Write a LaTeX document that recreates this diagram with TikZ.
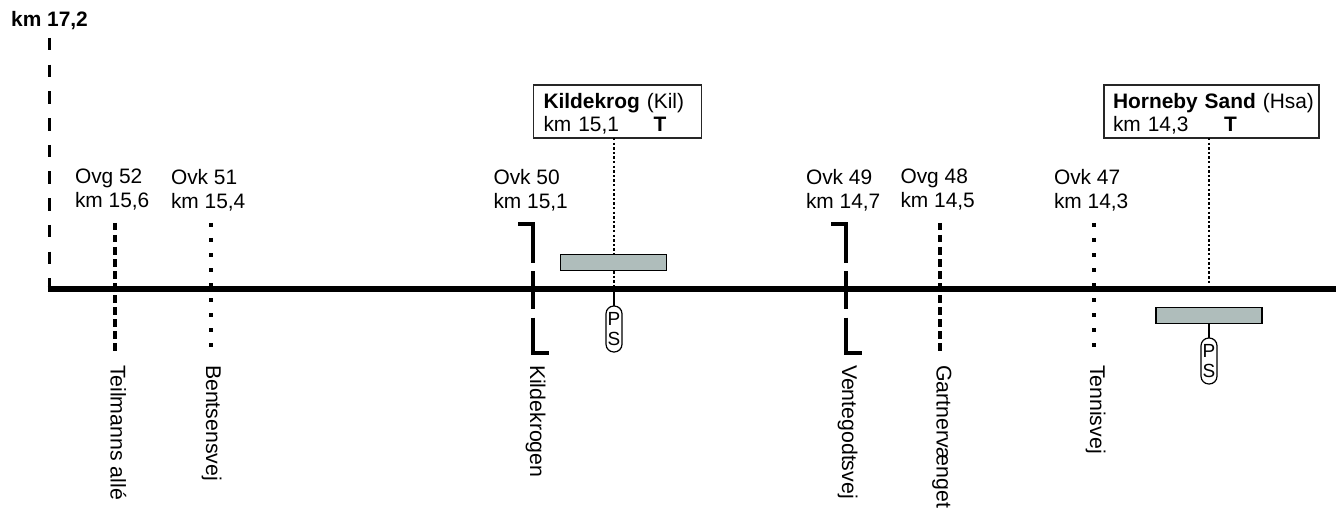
\documentclass[tikz,border=0pt]{standalone}
\usepackage{fontspec}
\setmainfont{Liberation Sans}
\definecolor{plat}{HTML}{AFBDBB}
\tikzset{
  lbl/.style={inner sep=0pt,outer sep=0pt,anchor=north west,align=left,font=\fontsize{20.9}{24.3}\selectfont},
  road/.style={inner sep=0pt,outer sep=0pt,anchor=base west,rotate=-90,font=\fontsize{21.3}{24}\selectfont},
  stationbox/.style={draw=black!85,line width=1.1pt,fill=white,inner sep=0pt,outer sep=0pt,minimum height=53pt,align=left,font=\fontsize{20.9}{23}\selectfont},
  platform/.style={draw=black,line width=1.1pt,fill=plat,inner sep=0pt,outer sep=0pt,minimum width=106pt},
  capsule/.style={draw=black,line width=1.2pt,fill=white,rounded corners=7.8pt,inner sep=0pt,outer sep=0pt,minimum width=16pt,minimum height=46pt,align=center,font=\fontsize{19}{20}\selectfont},
  mainline/.style={line width=5.6pt},
  kmline/.style={line width=3pt,dash pattern=on 12.5pt off 14.2pt},
  gate/.style={line width=4pt,dash pattern=on 7.5pt off 4.5pt},
  cross/.style={line width=4pt,dash pattern=on 4pt off 11pt},
  barrier/.style={line width=4pt,dash pattern=on 38pt off 8.5pt},
  tick/.style={line width=4pt},
  fine/.style={line width=2.6pt,dash pattern=on 2.5pt off 2.1pt},
  stem/.style={line width=1.4pt}
}
\begin{document}
\begin{tikzpicture}[x=1pt,y=-1pt]
\useasboundingbox (0,0) rectangle (1336,513);
% main line
\coordinate (mL) at (47.5,289);
\coordinate (mR) at (1340,289);
\coordinate (kmtop) at (49,38);
\draw[kmline] (kmtop) -- (kmtop |- mL);
\draw[mainline] (mL) -- (mR);
\node[anchor=base west,inner sep=0pt,font=\fontsize{20.9}{24}\selectfont\bfseries] (km) at (11,27) {km 17,2};
% crossings
\coordinate (a1) at (114.5,223); \coordinate (a2) at (114.5,355);
\draw[gate] (a1) -- (a2);
\coordinate (b1) at (210.5,223); \coordinate (b2) at (210.5,348);
\draw[cross] (b1) -- (b2);
\coordinate (c1) at (533,224.5); \coordinate (c2) at (533,353);
\coordinate (c3) at (518,224.5); \coordinate (c4) at (549,353);
\draw[barrier] (c1) -- (c2);
\draw[tick] (c3) -- (535,224.5) (531,353) -- (c4);
\coordinate (d1) at (846,224.5); \coordinate (d2) at (846,353);
\coordinate (d3) at (831,224.5); \coordinate (d4) at (862,353);
\draw[barrier] (d1) -- (d2);
\draw[tick] (d3) -- (848,224.5) (844,353) -- (d4);
\coordinate (e1) at (940,223); \coordinate (e2) at (940,355);
\draw[gate] (e1) -- (e2);
\coordinate (f1) at (1093.5,223); \coordinate (f2) at (1093.5,348);
\draw[cross] (f1) -- (f2);
% crossing labels
\node[lbl] (la) at (75,169) {Ovg 52\\km 15,6};
\node[lbl] (lb) at (171,169) {Ovk 51\\km 15,4};
\node[lbl] (lc) at (493.5,169) {Ovk 50\\km 15,1};
\node[lbl] (ld) at (806,169) {Ovk 49\\km 14,7};
\node[lbl] (le) at (900.5,169) {Ovg 48\\km 14,5};
\node[lbl] (lf) at (1054,169) {Ovk 47\\km 14,3};
% road names
\node[road] (ra) at (110.5,365) {Teilmanns allé};
\node[road] (rb) at (206,365) {Bentsensvej};
\node[road] (rc) at (530,365) {Kildekrogen};
\node[road] (rd) at (842,365) {Ventegodtsvej};
\node[road] (re) at (936.5,365) {Gartnervænget};
\node[road] (rf) at (1090,365) {Tennisvej};
% Kildekrog
\node[stationbox,minimum width=168pt,text width=158pt] (s1) at (617.5,111.5) {\rule{0pt}{19pt}\hspace*{5pt}\textbf{Kildekrog} (Kil)\\\hspace*{5pt}\makebox[110pt][l]{km 15,1}\textbf{T}};
\node[platform,minimum height=16pt] (p1) at (613.5,262.5) {};
\node[capsule] (c1b) at (614,329) {P\\S};
\coordinate (m1) at (614,287);
\draw[fine] (614,138) -- (614,254);
\draw[fine] (614,271) -- (m1);
\draw[stem] (m1) -- (c1b.north);
% Horneby Sand
\node[stationbox,minimum width=215pt,text width=210pt] (s2) at (1211.5,111.5) {\rule{0pt}{19pt}\hspace*{6.5pt}\textbf{Horneby Sand} (Hsa)\\\hspace*{6.5pt}\makebox[111pt][l]{km 14,3}\textbf{T}};
\node[platform,minimum height=15.5pt] (p2) at (1209,315.5) {};
\node[capsule] (c2b) at (1209,361) {P\\S};
\coordinate (m2) at (1209,285);
\draw[fine] (1209,138) -- (m2);
\draw[stem] (p2.south) -- (c2b.north);
\end{tikzpicture}
\end{document}
